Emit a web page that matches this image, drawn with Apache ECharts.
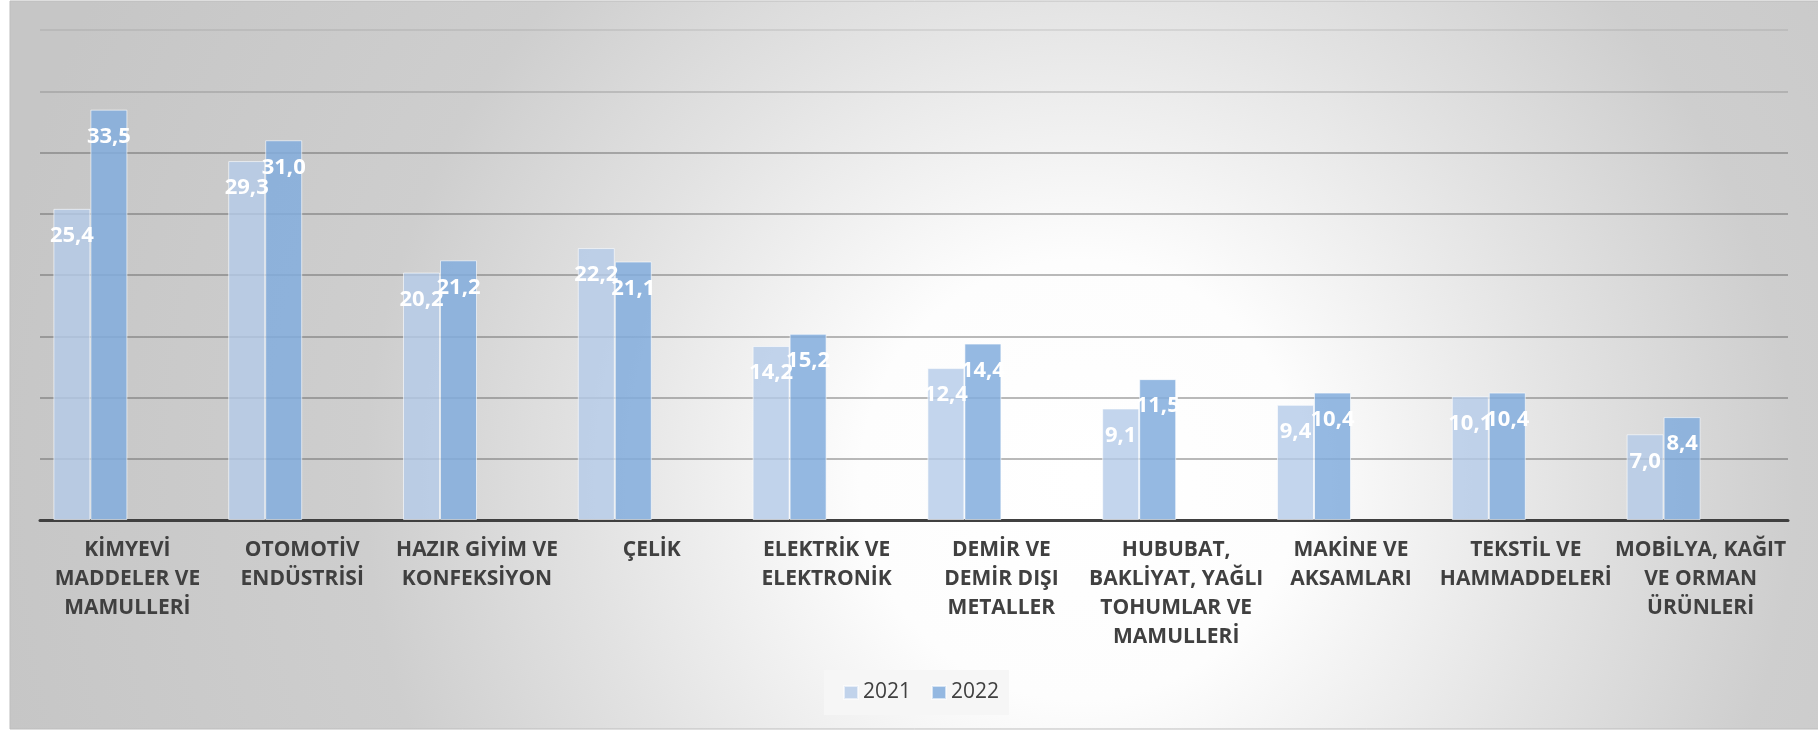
<!DOCTYPE html>
<html>
<head>
<meta charset="utf-8">
<script src="https://cdn.jsdelivr.net/npm/echarts@6/dist/echarts.min.js"></script>
<style>
  html, body { margin: 0; padding: 0; background: #fff; }
  #main { width: 1818px; height: 731px; }
</style>
</head>
<body>
<div id="main"></div>
<script type="text/javascript">
    // sektörler (kategori etiketleri, satır kırılımları grafikteki gibi)
    var categories = [
        'KİMYEVİ\nMADDELER VE\nMAMULLERİ',
        'OTOMOTİV\nENDÜSTRİSİ',
        'HAZIR GİYİM VE\nKONFEKSİYON',
        'ÇELİK',
        'ELEKTRİK VE\nELEKTRONİK',
        'DEMİR VE\nDEMİR DIŞI\nMETALLER',
        'HUBUBAT,\nBAKLİYAT, YAĞLI\nTOHUMLAR VE\nMAMULLERİ',
        'MAKİNE VE\nAKSAMLARI',
        'TEKSTİL VE\nHAMMADDELERİ',
        'MOBİLYA, KAĞIT\nVE ORMAN\nÜRÜNLERİ'
    ];
    var years = ['2021', '2022'];
    var values2021 = [25.4, 29.3, 20.2, 22.2, 14.2, 12.4, 9.1, 9.4, 10.1, 7.0];
    var values2022 = [33.5, 31.0, 21.2, 21.1, 15.2, 14.4, 11.5, 10.4, 10.4, 8.4];
    var empty = [null, null, null, null, null, null, null, null, null, null];

    var myChart = echarts.init(document.getElementById('main'));

    var labelStyle = {
        show: true,
        position: 'insideTop',
        distance: 16,
        color: '#fff',
        fontFamily: 'Open Sans',
        fontWeight: 'bold',
        fontSize: 22,
        formatter: function (p) { return p.value.toFixed(1).replace('.', ','); }
    };

    var gridColors = [];
    for (var i = 0; i < 9; i++) {
        gridColors.push(i < 7 ? 'rgba(90,90,90,0.55)' : (i == 7 ? 'rgba(90,90,90,0.3)' : 'rgba(90,90,90,0.15)'));
    }

    option = {
        animation: false,
        textStyle: { fontFamily: 'Open Sans' },
        graphic: {
            elements: [{
                type: 'rect',
                z: -10,
                silent: true,
                shape: { x: 10, y: 1, width: 1810, height: 728 },
                style: {
                    fill: {
                        type: 'radial', x: 1080, y: 480, r: 1100, global: true,
                        colorStops: [
                            { offset: 0, color: '#ffffff' },
                            { offset: 0.2, color: '#fdfdfd' },
                            { offset: 0.45, color: '#e2e2e2' },
                            { offset: 0.65, color: '#cecece' },
                            { offset: 1, color: '#c6c6c6' }
                        ]
                    },
                    stroke: '#bdbdbd',
                    lineWidth: 1
                }
            }]
        },
        legend: {
            data: years,
            left: 824,
            top: 670,
            orient: 'horizontal',
            padding: [12, 10, 12, 19],
            backgroundColor: '#f6f6f6',
            itemWidth: 14,
            itemHeight: 13,
            itemGap: 20,
            icon: 'rect',
            textStyle: { color: '#404040', fontSize: 21, fontFamily: 'Open Sans' }
        },
        grid: {
            left: 40,
            right: 30,
            top: 30,
            bottom: 211,
            containLabel: false
        },
        xAxis: {
            type: 'category',
            data: categories,
            axisTick: { show: false },
            axisLine: { lineStyle: { color: '#404040', width: 3 } },
            axisLabel: {
                interval: 0,
                margin: 16,
                color: '#404040',
                fontFamily: 'Open Sans',
                fontWeight: 'bold',
                fontSize: 21,
                lineHeight: 29,
                align: 'center'
            }
        },
        yAxis: {
            type: 'value',
            min: 0,
            max: 40,
            interval: 5,
            axisLabel: { show: false },
            axisLine: { show: false },
            axisTick: { show: false },
            splitLine: { lineStyle: { color: gridColors, width: 1.5 } }
        },
        series: [
            {
                name: years[0],
                type: 'bar',
                data: values2021,
                barWidth: 37,
                barGap: 0,
                itemStyle: { color: 'rgba(180,203,233,0.8)', borderColor: 'rgba(255,255,255,0.6)', borderWidth: 1 },
                label: labelStyle
            },
            {
                name: years[1],
                type: 'bar',
                data: values2022,
                barWidth: 37,
                barGap: 0,
                itemStyle: { color: 'rgba(131,173,221,0.85)', borderColor: 'rgba(255,255,255,0.6)', borderWidth: 1 },
                label: labelStyle
            },
            // boş seriler (orijinal grafikte yer tutuyorlar)
            { name: 'bos1', type: 'bar', data: empty, barWidth: 37, barGap: 0 },
            { name: 'bos2', type: 'bar', data: empty, barWidth: 37, barGap: 0 }
        ]
    };
    myChart.setOption(option);
</script>
</body>
</html>
